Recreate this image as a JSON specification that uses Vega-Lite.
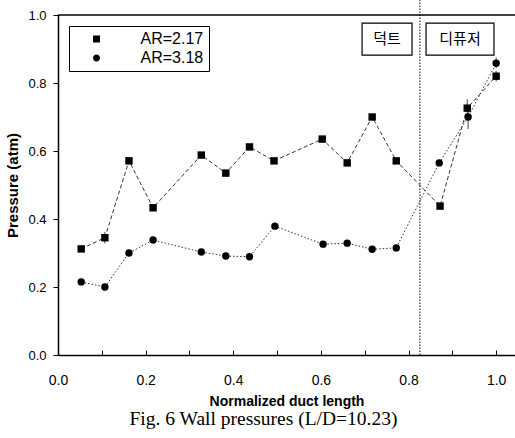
{
  "$schema": "https://vega.github.io/schema/vega-lite/v6.json",
  "width": 457,
  "height": 340,
  "autosize": {"type": "none"},
  "padding": {"left": 58, "top": 15, "right": 0, "bottom": 83},
  "background": "white",
  "config": {
    "view": {"stroke": null},
    "font": "Liberation Sans",
    "axis": {
      "domainColor": "black",
      "domainWidth": 1.5,
      "tickColor": "black",
      "tickWidth": 1,
      "labelColor": "black",
      "titleColor": "black",
      "grid": false,
      "labelFont": "Liberation Sans",
      "titleFont": "Liberation Sans",
      "titleFontWeight": "bold"
    },
    "legend": {
      "title": null,
      "orient": "top-left",
      "offset": 11,
      "padding": 5,
      "strokeColor": "black",
      "fillColor": "white",
      "labelFont": "Liberation Sans",
      "labelFontSize": 16,
      "labelColor": "black",
      "labelOffset": 36,
      "symbolOffset": 14.5,
      "symbolSize": 49,
      "symbolStrokeWidth": 1,
      "symbolStrokeColor": "black",
      "symbolFillColor": "black",
      "rowPadding": 3
    }
  },
  "title": {
    "text": "Fig. 6 Wall pressures (L/D=10.23)",
    "orient": "bottom",
    "font": "Liberation Serif",
    "fontSize": 19.5,
    "fontWeight": "normal",
    "color": "black",
    "dx": -23,
    "offset": 2
  },
  "datasets": {
    "main": [
      {"series": "AR=2.17", "length": 0.053, "pressure": 0.312},
      {"series": "AR=2.17", "length": 0.107, "pressure": 0.345},
      {"series": "AR=2.17", "length": 0.162, "pressure": 0.571},
      {"series": "AR=2.17", "length": 0.217, "pressure": 0.433},
      {"series": "AR=2.17", "length": 0.327, "pressure": 0.588},
      {"series": "AR=2.17", "length": 0.383, "pressure": 0.535},
      {"series": "AR=2.17", "length": 0.437, "pressure": 0.612},
      {"series": "AR=2.17", "length": 0.493, "pressure": 0.571},
      {"series": "AR=2.17", "length": 0.603, "pressure": 0.635},
      {"series": "AR=2.17", "length": 0.66, "pressure": 0.565},
      {"series": "AR=2.17", "length": 0.717, "pressure": 0.7},
      {"series": "AR=2.17", "length": 0.772, "pressure": 0.571},
      {"series": "AR=2.17", "length": 0.872, "pressure": 0.438},
      {"series": "AR=2.17", "length": 0.934, "pressure": 0.726},
      {"series": "AR=2.17", "length": 1.0, "pressure": 0.82},
      {"series": "AR=3.18", "length": 0.053, "pressure": 0.215},
      {"series": "AR=3.18", "length": 0.107, "pressure": 0.2},
      {"series": "AR=3.18", "length": 0.162, "pressure": 0.3},
      {"series": "AR=3.18", "length": 0.217, "pressure": 0.338},
      {"series": "AR=3.18", "length": 0.327, "pressure": 0.303},
      {"series": "AR=3.18", "length": 0.383, "pressure": 0.291},
      {"series": "AR=3.18", "length": 0.437, "pressure": 0.289},
      {"series": "AR=3.18", "length": 0.495, "pressure": 0.379},
      {"series": "AR=3.18", "length": 0.605, "pressure": 0.326},
      {"series": "AR=3.18", "length": 0.66, "pressure": 0.329},
      {"series": "AR=3.18", "length": 0.717, "pressure": 0.311},
      {"series": "AR=3.18", "length": 0.772, "pressure": 0.315},
      {"series": "AR=3.18", "length": 0.87, "pressure": 0.565},
      {"series": "AR=3.18", "length": 0.936, "pressure": 0.7},
      {"series": "AR=3.18", "length": 1.0, "pressure": 0.858}
    ],
    "errors": [
      {"length": 0.107, "pressure": 0.328, "pressure2": 0.362},
      {"length": 0.934, "pressure": 0.70, "pressure2": 0.752},
      {"length": 0.936, "pressure": 0.665, "pressure2": 0.735},
      {"length": 1.0, "pressure": 0.805, "pressure2": 0.835},
      {"length": 1.0, "pressure": 0.845, "pressure2": 0.875}
    ],
    "boxes": [
      {"label": "덕트", "length": 0.694, "length2": 0.808, "pressure": 0.882, "pressure2": 0.976, "center": 0.751, "mid": 0.929},
      {"label": "디퓨저", "length": 0.84, "length2": 0.995, "pressure": 0.882, "pressure2": 0.976, "center": 0.9175, "mid": 0.929}
    ],
    "divider": [{"length": 0.826, "pressure": 0.0, "pressure2": 1.045}]
  },
  "layer": [
    {
      "data": {"name": "divider"},
      "mark": {"type": "rule", "color": "black", "strokeWidth": 1, "strokeDash": [1.5, 1.5]},
      "encoding": {
        "x": {"field": "length", "type": "quantitative"},
        "y": {"field": "pressure", "type": "quantitative"},
        "y2": {"field": "pressure2"}
      }
    },
    {
      "data": {"name": "divider"},
      "mark": {"type": "rule", "color": "black", "strokeWidth": 1.5},
      "encoding": {
        "y": {"datum": 1.0, "type": "quantitative"}
      }
    },
    {
      "data": {"name": "boxes"},
      "mark": {"type": "rect", "fill": "white", "stroke": "black", "strokeWidth": 1.2},
      "encoding": {
        "x": {"field": "length", "type": "quantitative"},
        "x2": {"field": "length2"},
        "y": {"field": "pressure", "type": "quantitative"},
        "y2": {"field": "pressure2"}
      }
    },
    {
      "data": {"name": "boxes"},
      "mark": {"type": "text", "font": "Noto Sans CJK KR", "fontSize": 15, "color": "black", "align": "center", "baseline": "middle"},
      "encoding": {
        "x": {"field": "center", "type": "quantitative"},
        "y": {"field": "mid", "type": "quantitative"},
        "text": {"field": "label"}
      }
    },
    {
      "data": {"name": "errors"},
      "mark": {"type": "rule", "color": "#444", "strokeWidth": 1},
      "encoding": {
        "x": {"field": "length", "type": "quantitative"},
        "y": {"field": "pressure", "type": "quantitative"},
        "y2": {"field": "pressure2"}
      }
    },
    {
      "data": {"name": "main"},
      "transform": [{"filter": "datum.series === 'AR=2.17'"}],
      "mark": {"type": "line", "color": "#333", "strokeWidth": 1, "strokeDash": [4, 2.5]},
      "encoding": {
        "x": {
          "field": "length",
          "type": "quantitative",
          "scale": {"domain": [0, 1.043], "nice": false, "zero": false},
          "axis": {
            "title": "Normalized duct length",
            "titleFontSize": 14,
            "values": [0, 0.1, 0.2, 0.3, 0.4, 0.5, 0.6, 0.7, 0.8, 0.9, 1.0],
            "labelExpr": "round(datum.value*10) % 2 == 0 ? format(datum.value, '.1f') : ''",
            "labelFontSize": 14,
            "tickSize": -5,
            "labelPadding": 23,
            "titlePadding": 7,
            "labelFlush": false
          }
        },
        "y": {
          "field": "pressure",
          "type": "quantitative",
          "scale": {"domain": [0, 1.0], "nice": false},
          "axis": {
            "title": "Pressure (atm)",
            "titleFontSize": 15,
            "values": [0, 0.1, 0.2, 0.3, 0.4, 0.5, 0.6, 0.7, 0.8, 0.9, 1.0],
            "labelExpr": "round(datum.value*10) % 2 == 0 ? format(datum.value, '.1f') : ''",
            "labelFontSize": 13,
            "tickSize": 5,
            "labelPadding": 7,
            "titlePadding": 7,
            "labelFlush": false
          }
        }
      }
    },
    {
      "data": {"name": "main"},
      "transform": [{"filter": "datum.series === 'AR=3.18'"}],
      "mark": {"type": "line", "color": "#333", "strokeWidth": 1, "strokeDash": [1.5, 2]},
      "encoding": {
        "x": {"field": "length", "type": "quantitative"},
        "y": {"field": "pressure", "type": "quantitative"}
      }
    },
    {
      "data": {"name": "main"},
      "transform": [{"filter": "datum.series === 'AR=2.17'"}],
      "mark": {"type": "point", "shape": "square", "filled": true, "color": "black", "opacity": 1, "size": 55},
      "encoding": {
        "x": {"field": "length", "type": "quantitative"},
        "y": {"field": "pressure", "type": "quantitative"}
      }
    },
    {
      "data": {"name": "main"},
      "transform": [{"filter": "datum.series === 'AR=3.18'"}],
      "mark": {"type": "point", "shape": "circle", "filled": true, "color": "black", "opacity": 1, "size": 55},
      "encoding": {
        "x": {"field": "length", "type": "quantitative"},
        "y": {"field": "pressure", "type": "quantitative"}
      }
    },
    {
      "data": {"name": "main"},
      "transform": [{"filter": "datum.length > 5"}],
      "mark": {"type": "point", "filled": false, "stroke": "black", "fill": "black", "opacity": 1, "fillOpacity": 1, "strokeOpacity": 1, "size": 49, "strokeWidth": 1},
      "encoding": {
        "x": {"field": "length", "type": "quantitative"},
        "y": {"field": "pressure", "type": "quantitative"},
        "shape": {
          "field": "series",
          "type": "nominal",
          "scale": {
            "domain": ["AR=2.17", "AR=3.18"],
            "range": [
              "M-6,0H-1M1,0H6M-1,-1H1V1H-1Z",
              "M-6,0H-1M1,0H6M-1,0A1,1 0 1,0 1,0A1,1 0 1,0 -1,0Z"
            ]
          }
        },
        "strokeDash": {
          "field": "series",
          "type": "nominal",
          "scale": {"domain": ["AR=2.17", "AR=3.18"], "range": [[4, 2.5], [1.5, 2]]}
        }
      }
    }
  ]
}
